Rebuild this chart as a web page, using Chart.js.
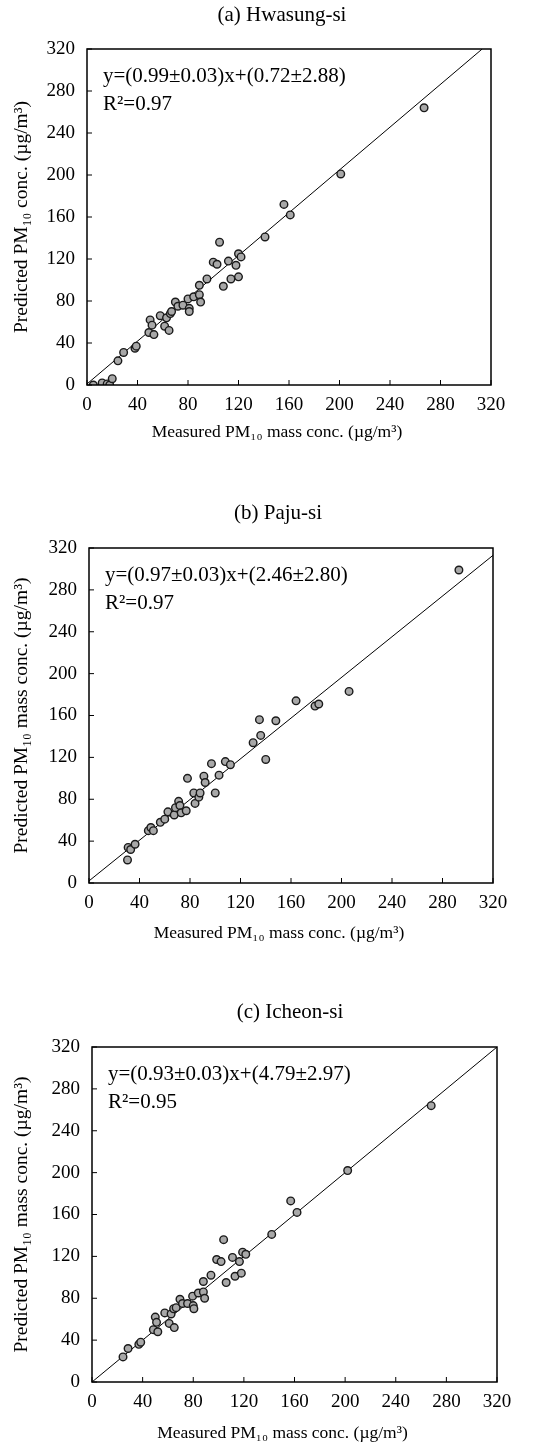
<!DOCTYPE html>
<html>
<head>
<meta charset="utf-8">
<script src="https://cdn.jsdelivr.net/npm/chart.js@4/dist/chart.umd.min.js"></script>
<style>
  body { margin: 0; background: #fff; }
  canvas { position: absolute; left: 0; }
</style>
</head>
<body>
<canvas id="chartA" width="552" height="450" style="top:0px"></canvas>
<canvas id="chartB" width="552" height="460" style="top:490px"></canvas>
<canvas id="chartC" width="552" height="455" style="top:990px"></canvas>
<script>
// Valeurs (µg/m3)
const tickValues = [0, 40, 80, 120, 160, 200, 240, 280, 320];

// (a) Hwasung-si
const hwasungMeasured = [5, 12, 16, 18, 20, 24.5, 29, 38, 39, 49, 50, 51.5, 53, 58, 61.5, 63, 65, 66, 67, 70, 72, 76, 80, 81, 81, 84.5, 89, 89, 90, 95, 100, 103, 105, 108, 112, 114, 118, 120, 120, 122, 141, 156, 161, 201, 267];
const hwasungPredicted = [0, 2, 1, 0, 6, 23, 31, 35, 37, 50, 62, 57, 48, 66, 56, 64, 52, 68, 70, 79, 75, 76, 82, 73, 70, 84, 86, 95, 79, 101, 117, 115, 136, 94, 118, 101, 114, 103, 125, 122, 141, 172, 162, 201, 264];
const hwasungFitX = [0, 313];
const hwasungFitY = [1, 320];

// (b) Paju-si
const pajuMeasured = [30.5, 31, 33, 36.5, 47, 49, 51, 56.5, 60, 62.5, 67.5, 68.5, 71, 72, 73, 77, 78, 83, 84, 87, 88, 91, 92, 97, 100, 103, 108, 112, 130, 135, 136, 140, 148, 164, 179, 182, 206, 293];
const pajuPredicted = [22, 34, 32, 37, 50, 53, 50, 58, 61, 68, 65, 72, 78, 74, 67, 69, 100, 86, 76, 82, 86, 102, 96, 114, 86, 103, 116, 113, 134, 156, 141, 118, 155, 174, 169, 171, 183, 299];
const pajuFitX = [0, 320];
const pajuFitY = [2, 313];

// (c) Icheon-si
const icheonMeasured = [24.5, 28.5, 37, 38.5, 48.5, 50, 51, 52, 57.5, 61, 62.5, 64.5, 65, 66.5, 69.5, 71.5, 75.5, 79.5, 80, 80.5, 84, 88, 88, 89, 94, 98.5, 102, 104, 106, 111, 113, 116.5, 118, 119, 121.5, 142, 157, 162, 202, 268];
const icheonPredicted = [24, 32, 36, 38, 50, 62, 57, 48, 66, 56, 65, 70, 52, 71, 79, 75, 75, 82, 73, 70, 85, 86, 96, 80, 102, 117, 115, 136, 95, 119, 101, 115, 104, 124, 122, 141, 173, 162, 202, 264];
const icheonFitX = [0, 320];
const icheonFitY = [0, 320];

const FONT_FAMILY = '"Liberation Serif", "DejaVu Serif", serif';
const X_TITLE = 'Measured PM₁₀ mass conc. (µg/m³)';

// Cadre, graduations internes et textes du panneau
const frameAndText = {
    id: 'frameAndText',
    afterDraw(chart, args, opts) {
        const { ctx, chartArea: a, scales: { x, y } } = chart;
        ctx.save();
        ctx.strokeStyle = '#000';
        ctx.lineWidth = 1.5;
        ctx.strokeRect(a.left, a.top, a.right - a.left, a.bottom - a.top);
        ctx.lineWidth = 1;
        ctx.beginPath();
        tickValues.forEach(v => {
            const px = x.getPixelForValue(v);
            ctx.moveTo(px, a.bottom);
            ctx.lineTo(px, a.bottom - 5);
            const py = y.getPixelForValue(v);
            ctx.moveTo(a.left, py);
            ctx.lineTo(a.left + 5, py);
        });
        ctx.stroke();
        ctx.fillStyle = '#000';
        ctx.textBaseline = 'middle';
        ctx.textAlign = 'center';
        ctx.font = '21px ' + FONT_FAMILY;
        ctx.fillText(opts.title, opts.titleX, opts.titleY);
        // titre de l'axe x, un peu décalé à gauche comme sur la figure
        ctx.font = '17.5px ' + FONT_FAMILY;
        ctx.fillText(X_TITLE, (a.left + a.right) / 2 - 12, a.bottom + opts.xTitleOffset);
        ctx.textAlign = 'left';
        ctx.font = '21px ' + FONT_FAMILY;
        ctx.fillText(opts.equation, a.left + 16, a.top + 27);
        ctx.fillText(opts.r2, a.left + 16, a.top + 55);
        ctx.restore();
    }
};

function toPoints(xs, ys) {
    return xs.map((v, i) => ({ x: v, y: ys[i] }));
}

function makeChart(id, p) {
    const ctx = document.getElementById(id).getContext('2d');
    const canvasHeight = ctx.canvas.height;
    new Chart(ctx, {
        type: 'scatter',
        data: {
            datasets: [{
                data: toPoints(p.measured, p.predicted),
                backgroundColor: '#a8a8a8',
                borderColor: '#1a1a1a',
                borderWidth: 1.4,
                pointRadius: 3.8
            }, {
                type: 'line',
                data: toPoints(p.fitX, p.fitY),
                borderColor: '#000',
                borderWidth: 1,
                pointRadius: 0,
                fill: false
            }]
        },
        options: {
            responsive: false,
            animation: false,
            devicePixelRatio: 1,
            layout: {
                padding: { top: p.plotTop, right: 552 - p.plotRight, left: 0, bottom: 0 }
            },
            plugins: {
                legend: { display: false },
                tooltip: { enabled: false },
                title: { display: false },
                frameAndText: {
                    title: p.title,
                    titleX: p.titleX,
                    titleY: p.titleY,
                    equation: p.equation,
                    r2: p.r2,
                    xTitleOffset: p.xTitleOffset
                }
            },
            scales: {
                x: {
                    type: 'linear',
                    min: 0,
                    max: 320,
                    afterBuildTicks: s => { s.ticks = tickValues.map(v => ({ value: v })); },
                    afterFit: s => {
                        s.height = canvasHeight - p.plotBottom;
                        s.paddingLeft = 0;
                        s.paddingRight = 0;
                    },
                    grid: { display: false },
                    border: { display: false },
                    ticks: { color: '#000', font: { family: FONT_FAMILY, size: 19 }, padding: 1, maxRotation: 0 },
                    title: { display: false }
                },
                y: {
                    type: 'linear',
                    min: 0,
                    max: 320,
                    afterBuildTicks: s => { s.ticks = tickValues.map(v => ({ value: v })); },
                    afterFit: s => {
                        s.width = p.plotLeft;
                        s.paddingTop = 0;
                        s.paddingBottom = 0;
                    },
                    grid: { display: false },
                    border: { display: false },
                    ticks: { color: '#000', font: { family: FONT_FAMILY, size: 19 }, padding: 4 },
                    title: {
                        display: true,
                        text: p.yTitle,
                        color: '#000',
                        font: { family: FONT_FAMILY, size: 19.5 },
                        padding: { top: 10, bottom: 0 }
                    }
                }
            }
        },
        plugins: [frameAndText]
    });
}

makeChart('chartA', {
    measured: hwasungMeasured, predicted: hwasungPredicted, fitX: hwasungFitX, fitY: hwasungFitY,
    title: '(a) Hwasung-si', titleX: 282, titleY: 15,
    equation: 'y=(0.99±0.03)x+(0.72±2.88)', r2: 'R²=0.97',
    yTitle: 'Predicted PM₁₀ conc. (µg/m³)',
    plotLeft: 87, plotRight: 491, plotTop: 49, plotBottom: 385, xTitleOffset: 47
});

makeChart('chartB', {
    measured: pajuMeasured, predicted: pajuPredicted, fitX: pajuFitX, fitY: pajuFitY,
    title: '(b) Paju-si', titleX: 278, titleY: 23,
    equation: 'y=(0.97±0.03)x+(2.46±2.80)', r2: 'R²=0.97',
    yTitle: 'Predicted PM₁₀ mass conc. (µg/m³)',
    plotLeft: 89, plotRight: 493, plotTop: 58, plotBottom: 393, xTitleOffset: 50
});

makeChart('chartC', {
    measured: icheonMeasured, predicted: icheonPredicted, fitX: icheonFitX, fitY: icheonFitY,
    title: '(c) Icheon-si', titleX: 290, titleY: 22,
    equation: 'y=(0.93±0.03)x+(4.79±2.97)', r2: 'R²=0.95',
    yTitle: 'Predicted PM₁₀ mass conc. (µg/m³)',
    plotLeft: 92, plotRight: 497, plotTop: 57, plotBottom: 392, xTitleOffset: 51
});
</script>
</body>
</html>
